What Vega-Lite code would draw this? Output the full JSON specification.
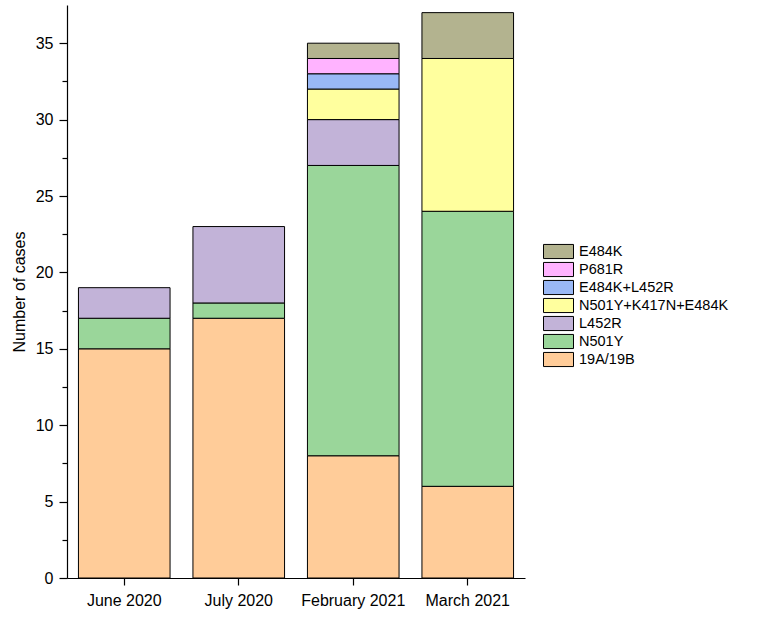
{
  "$schema": "https://vega.github.io/schema/vega-lite/v6.json",
  "autosize": "none",
  "width": 458,
  "height": 573,
  "padding": {"left": 67, "top": 5, "right": 233, "bottom": 39},
  "background": "white",
  "config": {
    "view": {"stroke": null},
    "font": "Liberation Sans",
    "axis": {"grid": false, "domainColor": "black", "tickColor": "black", "labelColor": "black", "titleColor": "black", "labelFont": "Liberation Sans", "titleFont": "Liberation Sans", "labelFontSize": 16, "titleFontSize": 16, "titleFontWeight": "normal", "domainWidth": 1.2, "tickWidth": 1.2}
  },
  "data": {"values": [
    {"month": "June 2020", "variant": "19A/19B", "ord": 1, "cases": 15},
    {"month": "June 2020", "variant": "N501Y", "ord": 2, "cases": 2},
    {"month": "June 2020", "variant": "L452R", "ord": 3, "cases": 2},
    {"month": "July 2020", "variant": "19A/19B", "ord": 1, "cases": 17},
    {"month": "July 2020", "variant": "N501Y", "ord": 2, "cases": 1},
    {"month": "July 2020", "variant": "L452R", "ord": 3, "cases": 5},
    {"month": "February 2021", "variant": "19A/19B", "ord": 1, "cases": 8},
    {"month": "February 2021", "variant": "N501Y", "ord": 2, "cases": 19},
    {"month": "February 2021", "variant": "L452R", "ord": 3, "cases": 3},
    {"month": "February 2021", "variant": "N501Y+K417N+E484K", "ord": 4, "cases": 2},
    {"month": "February 2021", "variant": "E484K+L452R", "ord": 5, "cases": 1},
    {"month": "February 2021", "variant": "P681R", "ord": 6, "cases": 1},
    {"month": "February 2021", "variant": "E484K", "ord": 7, "cases": 1},
    {"month": "March 2021", "variant": "19A/19B", "ord": 1, "cases": 6},
    {"month": "March 2021", "variant": "N501Y", "ord": 2, "cases": 18},
    {"month": "March 2021", "variant": "N501Y+K417N+E484K", "ord": 4, "cases": 10},
    {"month": "March 2021", "variant": "E484K", "ord": 7, "cases": 3}
  ]},
  "mark": {"type": "bar", "stroke": "black", "strokeWidth": 1},
  "encoding": {
    "x": {
      "field": "month", "type": "nominal", "sort": null,
      "scale": {"paddingInner": 0.2, "paddingOuter": 0.1},
      "axis": {"title": null, "labelAngle": 0, "tickSize": 7, "labelPadding": 7}
    },
    "y": {
      "field": "cases", "type": "quantitative", "aggregate": "sum", "stack": "zero",
      "scale": {"domain": [0, 37.5], "nice": false},
      "axis": {
        "title": "Number of cases", "titlePadding": 8,
        "values": [0, 2.5, 5, 7.5, 10, 12.5, 15, 17.5, 20, 22.5, 25, 27.5, 30, 32.5, 35],
        "labelExpr": "datum.value % 5 === 0 ? datum.label : ''",
        "tickSize": {"condition": {"test": "datum.value % 5 === 0", "value": 8}, "value": 5},
        "labelPadding": 6
      }
    },
    "color": {
      "field": "variant", "type": "nominal",
      "scale": {
        "domain": ["E484K", "P681R", "E484K+L452R", "N501Y+K417N+E484K", "L452R", "N501Y", "19A/19B"],
        "range": ["#B3B38F", "#FFB3FF", "#99B8F5", "#FFFF9E", "#C2B3D8", "#9AD69A", "#FFCC99"]
      },
      "legend": {
        "title": null, "orient": "none", "legendX": 483.5, "legendY": 238.5,
        "symbolType": "M-2,-0.94H2V0.94H-2Z", "symbolSize": 225,
        "symbolStrokeColor": "black", "symbolStrokeWidth": 1, "symbolOpacity": 1,
        "labelFontSize": 14.5, "labelColor": "black", "labelOffset": 12.5,
        "rowPadding": -3.4, "padding": 0, "labelLimit": 300
      }
    },
    "order": {"field": "ord", "type": "quantitative", "sort": "ascending"}
  }
}
